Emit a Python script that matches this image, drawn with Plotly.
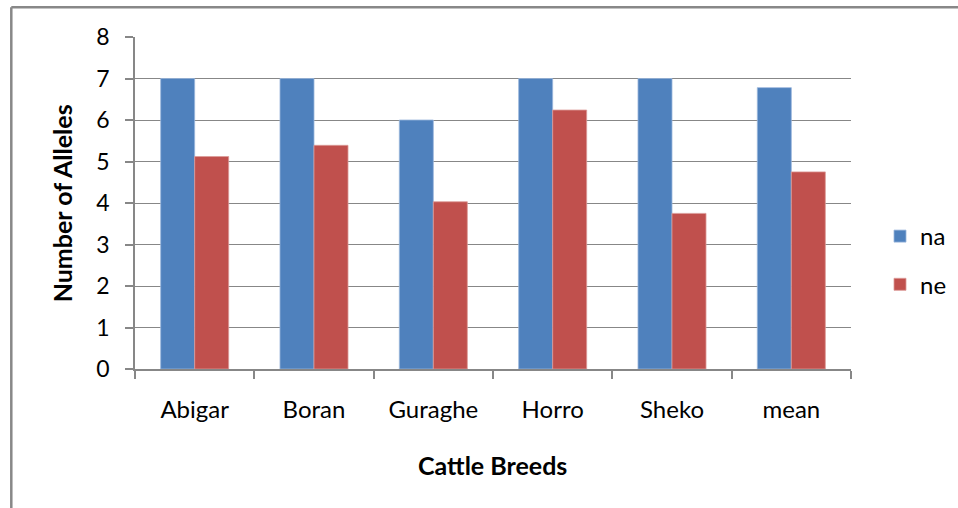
import plotly.graph_objects as go

categories = ["Abigar", "Boran", "Guraghe", "Horro", "Sheko", "mean"]
na_values = [7, 7, 6, 7, 7, 6.78]
ne_values = [5.12, 5.39, 4.03, 6.24, 3.75, 4.75]
y_ticks = [0, 1, 2, 3, 4, 5, 6, 7, 8]

FONT = "Lato, 'Open Sans', sans-serif"
GRID = "#878787"

fig = go.Figure()
fig.add_trace(go.Bar(x=categories, y=na_values, name="na",
                     marker=dict(color="#4F81BD", line=dict(color="#9AB6DC", width=0.8)),
                     legendgroup="a"))
fig.add_trace(go.Bar(x=categories, y=ne_values, name="ne",
                     marker=dict(color="#C0504D", line=dict(color="#DC9A98", width=0.8)),
                     legendgroup="b"))

W, H = 958, 508
L, R, T, B = 134.7, 107.3, 36.7, 138.7
pw, ph = W - L - R, H - T - B

def px(x):
    return (x - L) / pw

def py(y):
    return 1 - (y - T) / ph

fig.update_layout(
    width=W, height=H,
    margin=dict(l=L, r=R, t=T, b=B),
    paper_bgcolor="white", plot_bgcolor="white",
    font=dict(family=FONT, size=23, color="black"),
    barmode="group", bargap=0.43, bargroupgap=0,
    showlegend=True,
    legend=dict(xref="container", yref="container", x=880 / W, y=1 - 214 / H,
                xanchor="left", yanchor="top",
                font=dict(size=24), tracegroupgap=14, itemwidth=30,
                bgcolor="rgba(0,0,0,0)"),
    xaxis=dict(showgrid=False, showline=True, linecolor=GRID, linewidth=1.5,
               ticks="outside", tickson="boundaries", ticklen=8, tickcolor=GRID,
               tickwidth=1.5, ticklabelstandoff=18, tickfont=dict(size=24)),
    yaxis=dict(range=[0, 8], tickvals=y_ticks, showgrid=True, gridcolor=GRID,
               gridwidth=1.3, showline=True, linecolor=GRID, linewidth=1.5,
               ticks="outside", ticklen=8, tickcolor=GRID, tickwidth=1.5,
               ticklabelstandoff=11, tickfont=dict(size=23), zeroline=False),
    annotations=[
        dict(text="<b>Number of Alleles</b>", x=px(62), y=0.5, xref="paper", yref="paper",
             textangle=-90, showarrow=False, font=dict(size=25), xanchor="center", yanchor="middle"),
        dict(text="<b>Cattle Breeds</b>", x=px(492), y=py(465), xref="paper", yref="paper",
             showarrow=False, font=dict(size=25), xanchor="center", yanchor="middle"),
    ],
    shapes=[
        dict(type="line", xref="paper", yref="paper", x0=px(11), x1=px(970), y0=py(7), y1=py(7),
             line=dict(color="#888888", width=2.5)),
        dict(type="line", xref="paper", yref="paper", x0=px(11), x1=px(11), y0=py(7), y1=py(520),
             line=dict(color="#888888", width=2.5)),
    ],
)

fig.write_html("out.html")
